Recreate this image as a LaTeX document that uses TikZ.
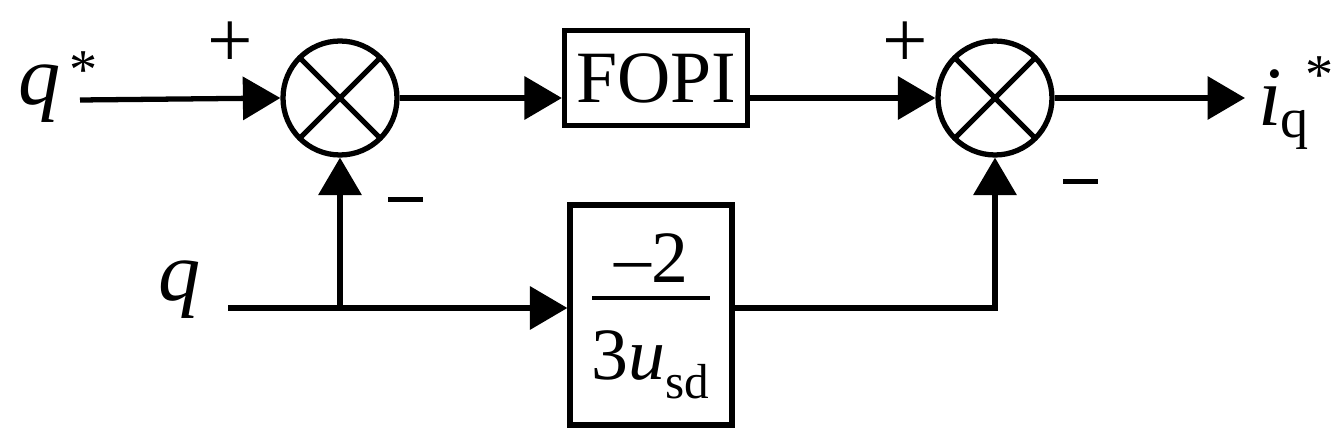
\documentclass[tikz,border=0pt]{standalone}
\usepackage{fontspec}
\setmainfont{Liberation Serif}
\usetikzlibrary{arrows.meta}
\begin{document}
\begin{tikzpicture}[x=0.02cm,y=-0.02cm,
  ln/.style={line width=3pt},
  ar/.style={ln,-{Triangle[length=0.75cm,width=0.85cm]}},
  sum/.style={circle,draw,line width=3pt,minimum size=2.28cm,inner sep=0pt,
    path picture={\draw[line width=3pt] (path picture bounding box.south west)--(path picture bounding box.north east)
      (path picture bounding box.north west)--(path picture bounding box.south east);}},
  blk/.style={draw,line width=3pt,inner sep=0pt},
  big/.style={font=\fontsize{42}{46}\selectfont},
  mn/.style={fill=black,minimum width=0.7cm,minimum height=0.1cm,inner sep=0pt}]
\useasboundingbox (0,0) rectangle (1336,438);
\node[sum] (s1) at (340,98) {};
\node[sum] (s2) at (995,98) {};
\node[blk,minimum width=3.66cm,minimum height=1.9cm,big] (f) at (656,78) {FOPI};
\node[blk,minimum width=3.24cm,minimum height=4.4cm] (g) at (651,315) {};
\node[big] at (651,258) {–2};
\draw[line width=1.8pt] (592,298)--(710,298);
\node[big] at (651,365) {3\textit{u}\textsubscript{\fontsize{28}{30}\selectfont sd}};
\node[font=\fontsize{48}{52}\selectfont\itshape] (qs) at (40,94) {q};
\node[font=\fontsize{32}{34}\selectfont] at (84,70) {*};
\coordinate (qsend) at (80,100);
\node[font=\fontsize{48}{52}\selectfont\itshape] (q) at (180,290) {q};
\coordinate (qend) at (228,308);
\coordinate (br) at (340,308);
\coordinate (gr) at (995,308);
\node[font=\fontsize{48}{52}\selectfont\itshape] (iq) at (1270,98) {i};
\node[font=\fontsize{32}{34}\selectfont] at (1295,130) {q};
\node[font=\fontsize{32}{34}\selectfont] at (1320,75) {*};
\coordinate (oend) at (1245,98);
\node[font=\fontsize{46}{46}\selectfont] at (230,45) {+};
\node[font=\fontsize{46}{46}\selectfont] at (905,45) {+};
\node[mn] at (405,200) {};
\node[mn] at (1080,182) {};
\draw[ar] (qsend) -- (s1.west);
\draw[ar] (s1.east) -- (f.west|-s1);
\draw[ar] (f.east|-s2) -- (s2.west);
\draw[ar] (s2.east) -- (oend);
\draw[ar] (qend) -- (g.west|-qend);
\draw[ar] (br) -- (s1.south);
\draw[ar] (g.east|-gr) -- (gr) -- (s2.south);
\end{tikzpicture}
\end{document}
